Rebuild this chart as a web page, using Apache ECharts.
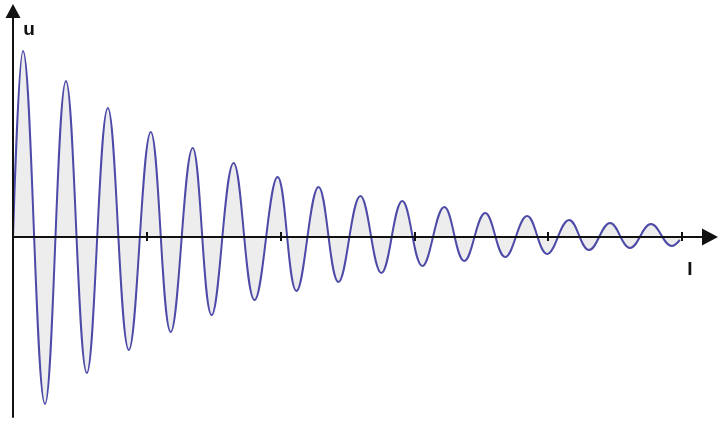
<!DOCTYPE html>
<html>
<head>
<meta charset="utf-8">
<script src="https://cdn.jsdelivr.net/npm/echarts@6/dist/echarts.min.js"></script>
<style>
  html, body { margin: 0; padding: 0; background: #fff; }
  #chart { width: 718px; height: 421px; }
</style>
</head>
<body>
<div id="chart"></div>
<script>
// time values (axis units, one tick = 1):
// start, every peak / trough, end
const tValues = [
  0,
  0.075, 0.239, 0.396, 0.552, 0.709, 0.866, 1.030, 1.179,
  1.343, 1.485, 1.649, 1.806, 1.978, 2.119, 2.284, 2.433,
  2.597, 2.754, 2.910, 3.060, 3.224, 3.373, 3.530, 3.679,
  3.843, 3.993, 4.157, 4.306, 4.463, 4.612, 4.769, 4.925,
  4.985
];
// voltage u at those times
const uValues = [
  0,
  1.86, -1.67, 1.56, -1.36, 1.29, -1.13, 1.05, -0.95,
  0.89, -0.78, 0.74, -0.63, 0.60, -0.54, 0.50, -0.45,
  0.41, -0.36, 0.36, -0.29, 0.30, -0.24, 0.24, -0.20,
  0.21, -0.17, 0.17, -0.13, 0.14, -0.11, 0.13, -0.09,
  -0.03
];
const tickValues = [1, 2, 3, 4, 5];

const chart = echarts.init(document.getElementById('chart'));

const axisColor = '#111';

const option = {
  animation: false,
  grid: {left: 13, right: 8, top: 11, bottom: 4},
  xAxis: [
    {
      type: 'value',
      min: 0,
      max: 5.21,
      z: 5,
      axisLine: {
        onZero: true,
        lineStyle: {color: axisColor, width: 2},
        symbol: ['none', 'triangle'],
        symbolSize: [17, 16]
      },
      axisTick: {
        show: true,
        inside: true,
        length: 5,
        customValues: tickValues,
        lineStyle: {color: axisColor, width: 2}
      },
      axisLabel: {show: false},
      splitLine: {show: false}
    },
    {
      // second axis on the same line, so ticks cross the axis
      type: 'value',
      min: 0,
      max: 5.21,
      z: 5,
      position: 'bottom',
      axisLine: {show: false, onZero: true, onZeroAxisIndex: 0},
      axisTick: {
        show: true,
        length: 4,
        customValues: tickValues,
        lineStyle: {color: axisColor, width: 2}
      },
      axisLabel: {show: false},
      splitLine: {show: false}
    }
  ],
  yAxis: {
    type: 'value',
    min: -1.80,
    max: 2.26,
    z: 5,
    axisLine: {
      show: true,
      lineStyle: {color: axisColor, width: 2},
      symbol: ['none', 'triangle'],
      symbolSize: [15, 14]
    },
    axisTick: {show: false},
    axisLabel: {show: false},
    splitLine: {show: false}
  },
  graphic: [
    {
      type: 'text',
      x: 29,
      y: 30,
      style: {
        text: 'u',
        font: 'bold 19px "Liberation Sans", Arial, sans-serif',
        fill: '#111',
        align: 'center',
        verticalAlign: 'middle'
      }
    },
    {
      type: 'text',
      x: 690,
      y: 270,
      style: {
        text: 'I',
        font: 'bold 19px "Liberation Sans", Arial, sans-serif',
        fill: '#111',
        align: 'center',
        verticalAlign: 'middle'
      }
    }
  ],
  series: [{
    type: 'line',
    xAxisIndex: 0,
    data: tValues.map((t, i) => [t, uValues[i]]),
    smooth: 0.4,
    symbol: 'none',
    z: 1,
    lineStyle: {color: '#4d4aa8', width: 2},
    areaStyle: {color: '#ededed', origin: 0, opacity: 1}
  }]
};

chart.setOption(option);
</script>
</body>
</html>
